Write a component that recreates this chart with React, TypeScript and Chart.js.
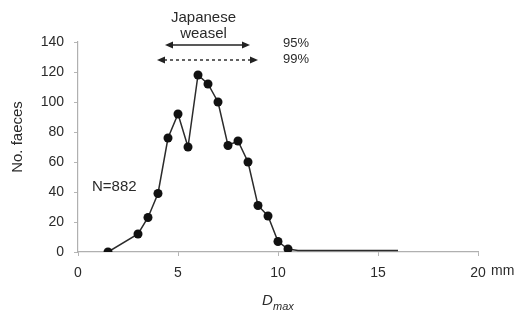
import React, { useEffect, useRef } from "react";
import { Chart, registerables } from "chart.js";

Chart.register(...registerables);

// Faeces size (Dmax, mm) and counts
const dmaxValues = [1.5, 3, 3.5, 4, 4.5, 5, 5.5, 6, 6.5, 7, 7.5, 8, 8.5, 9, 9.5, 10, 10.5];
const faecesCounts = [0, 12, 23, 39, 76, 92, 70, 118, 112, 100, 71, 74, 60, 31, 24, 7, 2];
// Tail of the distribution (line only, no markers)
const tailDmax = [11, 16];
const tailCounts = [1, 1];

// Japanese weasel ranges (95% and 99%), in mm, and their heights on the count axis
const weasel95 = [4.35, 8.6];
const weasel99 = [3.95, 9.0];
const rangeHeights = [138, 128];

const xTickValues = [0, 5, 10, 15, 20];
const yTickValues = [0, 20, 40, 60, 80, 100, 120, 140];
const xUnit = "mm";
const sampleLabel = "N=882";

const FONT = "'Liberation Sans', Arial, sans-serif";
const TEXT = "#2a2a2a";

function arrow(ctx: CanvasRenderingContext2D, x1: number, x2: number, y: number, dashed: boolean) {
  const head = 8;
  const half = 3.5;
  ctx.save();
  ctx.strokeStyle = "#222";
  ctx.fillStyle = "#222";
  ctx.lineWidth = 1.4;
  if (dashed) ctx.setLineDash([3, 3]);
  ctx.beginPath();
  ctx.moveTo(x1 + head - 1, y);
  ctx.lineTo(x2 - head + 1, y);
  ctx.stroke();
  ctx.setLineDash([]);
  ctx.beginPath();
  ctx.moveTo(x1, y);
  ctx.lineTo(x1 + head, y - half);
  ctx.lineTo(x1 + head, y + half);
  ctx.closePath();
  ctx.fill();
  ctx.beginPath();
  ctx.moveTo(x2, y);
  ctx.lineTo(x2 - head, y - half);
  ctx.lineTo(x2 - head, y + half);
  ctx.closePath();
  ctx.fill();
  ctx.restore();
}

const annotations = {
  id: "annotations",
  afterDraw(chart: any) {
    const ctx: CanvasRenderingContext2D = chart.ctx;
    const xs = chart.scales.x;
    const ys = chart.scales.y;
    ctx.save();
    ctx.fillStyle = TEXT;

    // ranges
    const y95 = ys.getPixelForValue(rangeHeights[0]);
    const y99 = ys.getPixelForValue(rangeHeights[1]);
    arrow(ctx, xs.getPixelForValue(weasel95[0]), xs.getPixelForValue(weasel95[1]), y95, false);
    arrow(ctx, xs.getPixelForValue(weasel99[0]), xs.getPixelForValue(weasel99[1]), y99, true);

    const midX = (xs.getPixelForValue(weasel95[0]) + xs.getPixelForValue(weasel95[1])) / 2;
    ctx.textAlign = "center";
    ctx.textBaseline = "middle";
    ctx.font = `15px ${FONT}`;
    ctx.fillText("Japanese", midX - 4, 18);
    ctx.fillText("weasel", midX - 4, 34);

    ctx.font = `13px ${FONT}`;
    ctx.textAlign = "left";
    ctx.fillText("95%", xs.getPixelForValue(weasel99[1]) + 25, y95 - 2);
    ctx.fillText("99%", xs.getPixelForValue(weasel99[1]) + 25, y99 - 1);

    // sample size
    ctx.font = `15px ${FONT}`;
    ctx.fillText(sampleLabel, 92, 187);

    // unit after last x tick
    ctx.font = `14px ${FONT}`;
    ctx.textAlign = "left";
    ctx.fillText(xUnit, xs.getPixelForValue(20) + 13, 271);

    // y title
    ctx.save();
    ctx.translate(18, 137);
    ctx.rotate(-Math.PI / 2);
    ctx.textAlign = "center";
    ctx.font = `15px ${FONT}`;
    ctx.fillText("No. faeces", 0, 0);
    ctx.restore();

    // x title D_max
    ctx.textAlign = "left";
    ctx.font = `italic 15px ${FONT}`;
    ctx.fillText("D", 262, 301);
    ctx.font = `italic 11px ${FONT}`;
    ctx.fillText("max", 273, 307);

    ctx.restore();
  },
};

export default function App() {
  const ref = useRef<HTMLCanvasElement | null>(null);

  useEffect(() => {
    if (!ref.current) return;
    const main = dmaxValues.map((x, i) => ({ x, y: faecesCounts[i] }));
    const tail = tailDmax.map((x, i) => ({ x, y: tailCounts[i] }));
    const data = [...main, ...tail];
    const radii = data.map((_, i) => (i < main.length ? 4.5 : 0));

    const chart = new Chart(ref.current, {
      type: "line",
      data: {
        datasets: [
          {
            data,
            borderColor: "#2b2b2b",
            borderWidth: 1.5,
            pointRadius: radii,
            pointBackgroundColor: "#111",
            pointBorderColor: "#111",
            pointBorderWidth: 0,
            tension: 0,
          },
        ],
      },
      options: {
        animation: false,
        responsive: false,
        events: [],
        layout: { padding: { top: 42, right: 42, left: 0, bottom: 0 } },
        plugins: { legend: { display: false }, tooltip: { enabled: false } },
        scales: {
          x: {
            type: "linear",
            min: 0,
            max: 20,
            afterFit: (s: any) => {
              s.height = 68;
            },
            afterBuildTicks: (s: any) => {
              s.ticks = xTickValues.map((v) => ({ value: v }));
            },
            grid: { drawOnChartArea: false, drawTicks: true, tickLength: 4, color: "#b5b5b5" },
            border: { display: true, color: "#b0b0b0", width: 1.2 },
            ticks: {
              color: TEXT,
              font: { family: FONT, size: 14 },
              padding: 9,
              maxRotation: 0,
            },
          },
          y: {
            type: "linear",
            min: 0,
            max: 140,
            afterFit: (s: any) => {
              s.width = 78;
            },
            afterBuildTicks: (s: any) => {
              s.ticks = yTickValues.map((v) => ({ value: v }));
            },
            grid: { drawOnChartArea: false, drawTicks: true, tickLength: 4, color: "#b5b5b5" },
            border: { display: true, color: "#b0b0b0", width: 1.2 },
            ticks: {
              color: TEXT,
              font: { family: FONT, size: 14 },
              padding: 10,
            },
          },
        },
      },
      plugins: [annotations],
    });
    return () => chart.destroy();
  }, []);

  return (
    <div style={{ position: "fixed", left: 0, top: 0, width: 520, height: 320, background: "#fff" }}>
      <canvas ref={ref} width={520} height={320} style={{ display: "block" }} />
    </div>
  );
}
